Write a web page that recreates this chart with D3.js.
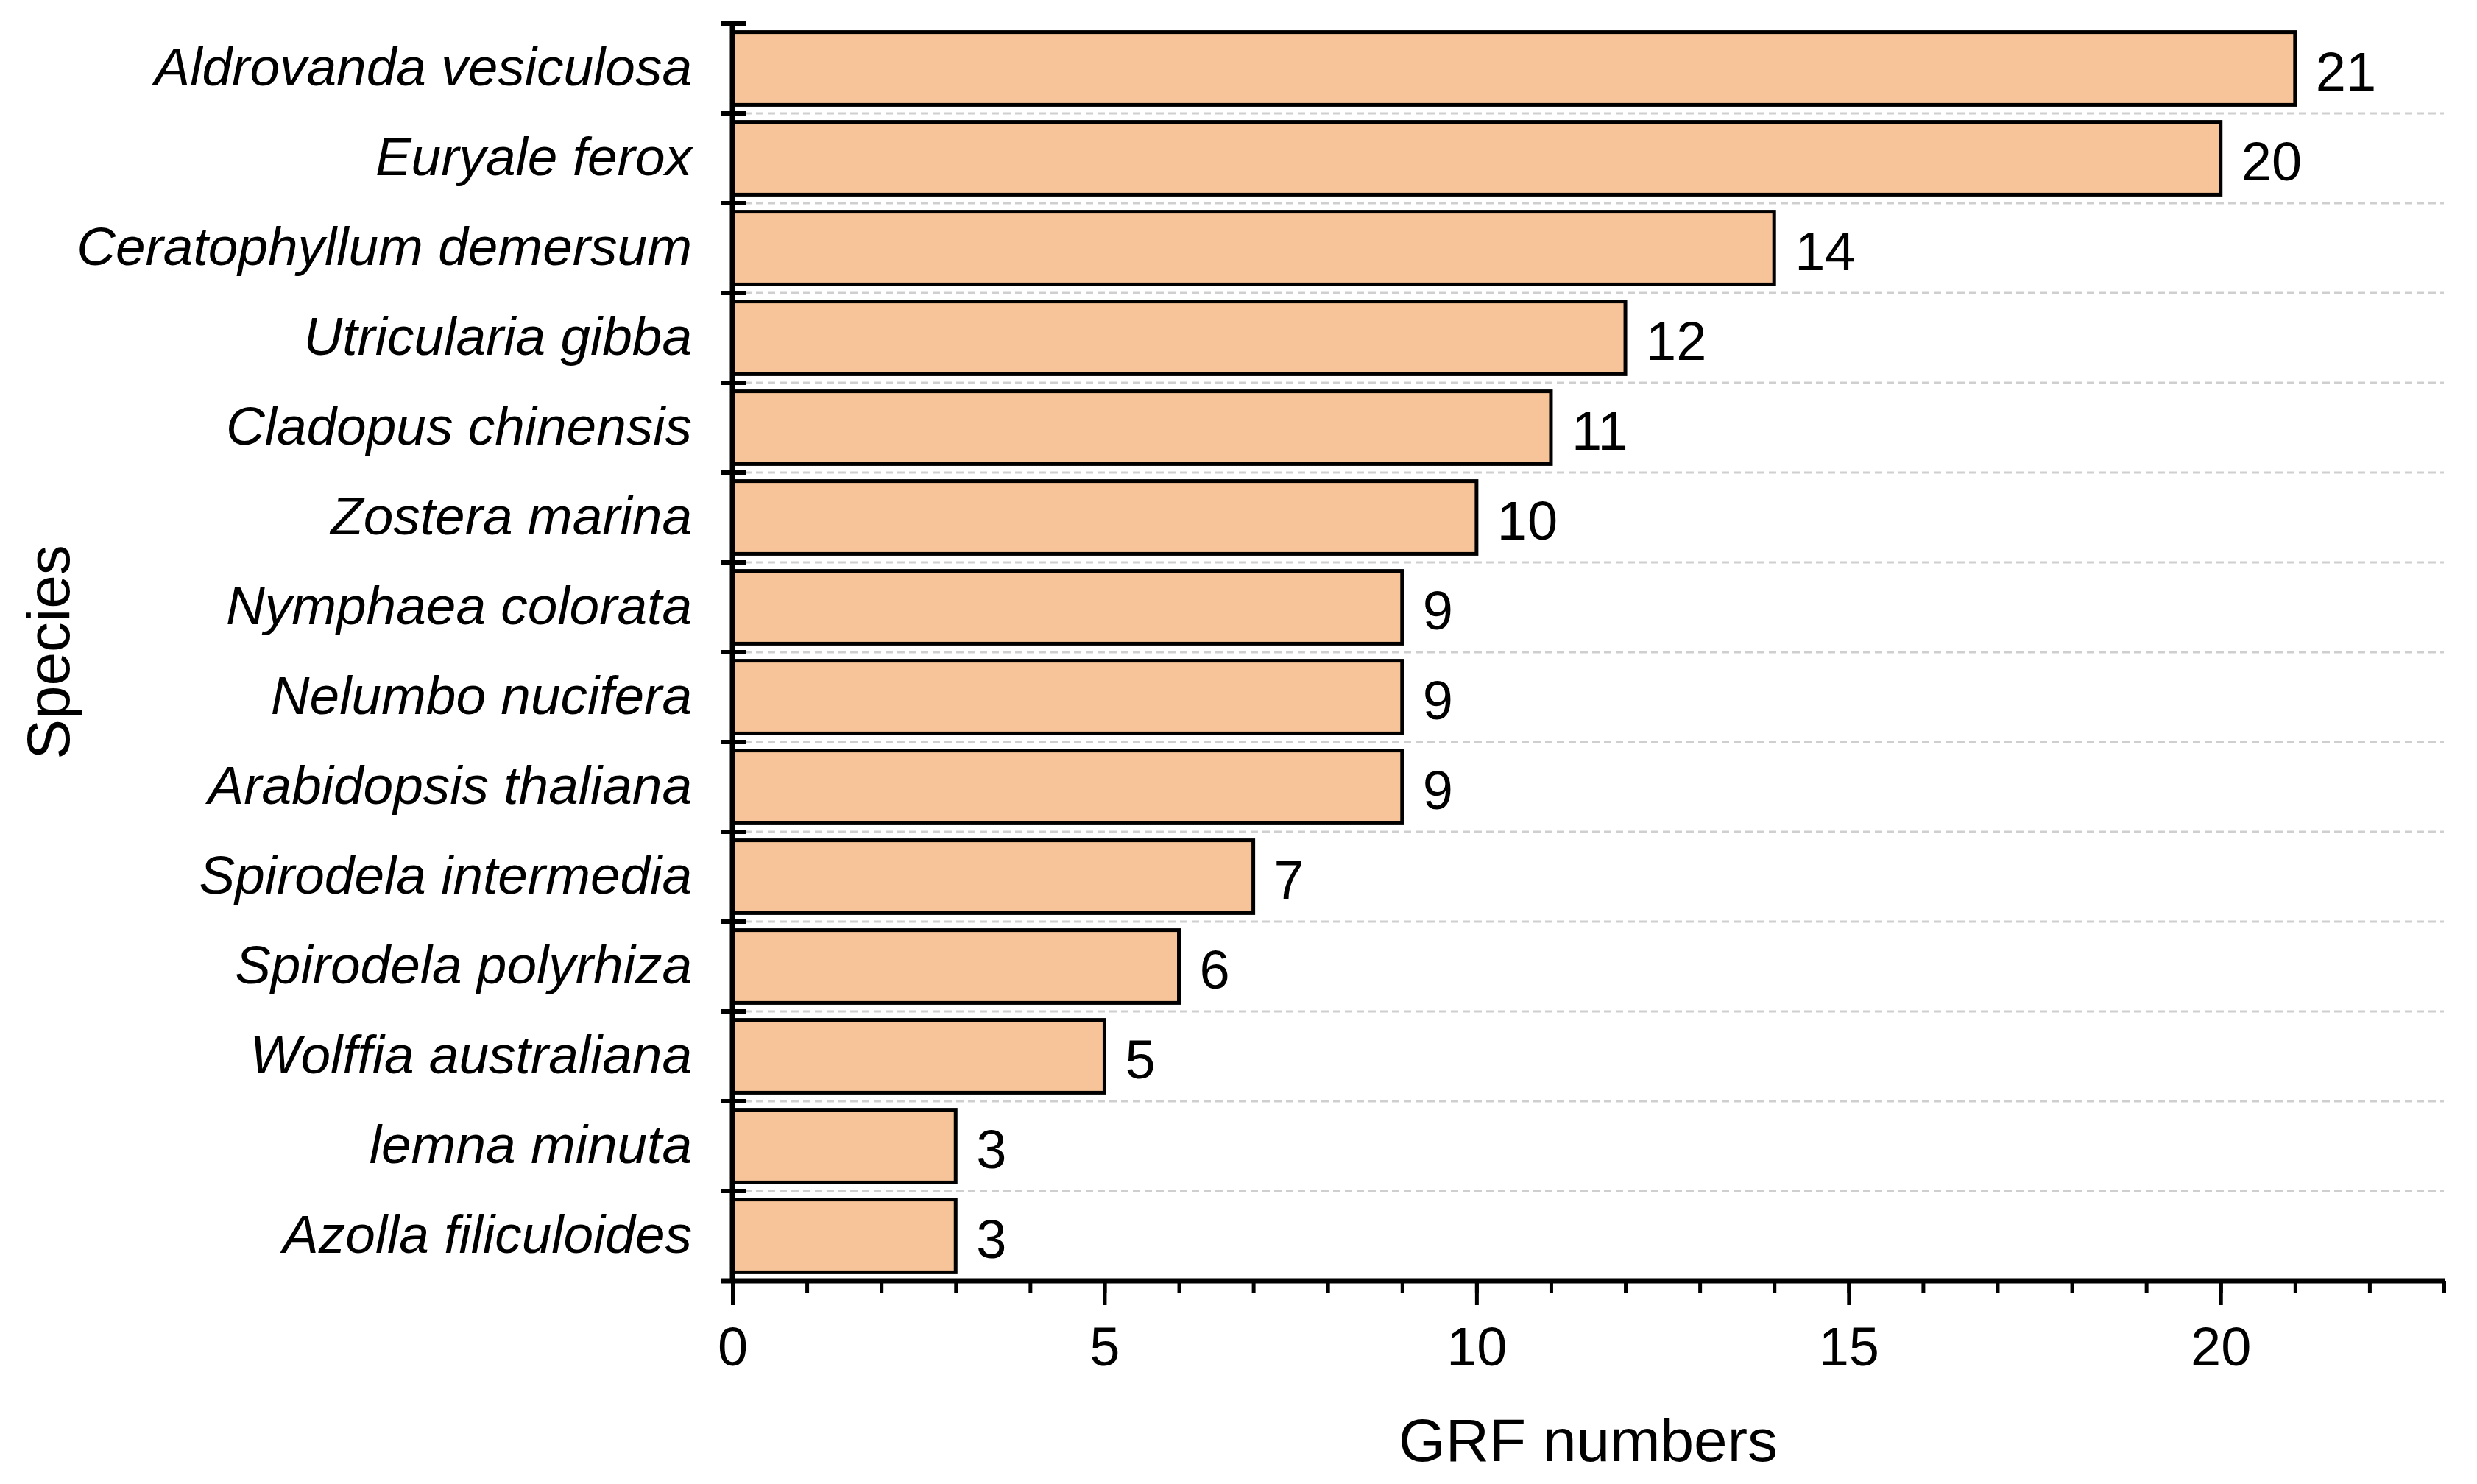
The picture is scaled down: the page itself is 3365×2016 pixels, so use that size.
<!DOCTYPE html>
<html>
<head>
<meta charset="utf-8">
<script src="https://cdn.jsdelivr.net/npm/d3@7"></script>
<style>
  html, body { margin: 0; padding: 0; background: #ffffff; }
  svg { display: block; }
  text { font-family: "Liberation Sans", Arial, Helvetica, sans-serif; fill: #000; }
</style>
</head>
<body>
<svg id="chart" width="3365" height="2016"></svg>
<script>
// ---- data ----
const species = [
  "Aldrovanda vesiculosa", "Euryale ferox", "Ceratophyllum demersum", "Utricularia gibba",
  "Cladopus chinensis", "Zostera marina", "Nymphaea colorata", "Nelumbo nucifera",
  "Arabidopsis thaliana", "Spirodela intermedia", "Spirodela polyrhiza", "Wolffia australiana",
  "lemna minuta", "Azolla filiculoides"
];
const grfNumbers = [21, 20, 14, 12, 11, 10, 9, 9, 9, 7, 6, 5, 3, 3];
const xMajorTicks = [0, 5, 10, 15, 20];
const xMinorTicks = d3.range(0, 24);
const xTitle = "GRF numbers";
const yTitle = "Species";

// ---- layout ----
const svg = d3.select("#chart");
const plotLeft = 995, plotRight = 3320, plotTop = 32, plotBottom = 1740;

const x = d3.scaleLinear().domain([0, 23]).range([plotLeft, plotRight]);
const y = d3.scaleBand().domain(species).range([plotTop, plotBottom])
  .paddingInner(0.19).paddingOuter(0.095);

svg.append("rect").attr("width", 3365).attr("height", 2016).attr("fill", "#ffffff");

// boundaries between categories
const half = y.step() * y.paddingInner() / 2;
const boundaries = species.map(s => y(s) - half);
boundaries.push(plotBottom);

// gridlines (interior boundaries)
svg.append("g").selectAll("line")
  .data(boundaries.slice(1, -1))
  .join("line")
  .attr("x1", plotLeft).attr("x2", plotRight)
  .attr("y1", d => d).attr("y2", d => d)
  .attr("stroke", "#cfcfcf").attr("stroke-width", 3)
  .attr("stroke-dasharray", "10,6");

// bars
svg.append("g").selectAll("rect")
  .data(species)
  .join("rect")
  .attr("x", x(0))
  .attr("y", d => y(d))
  .attr("width", (d, i) => x(grfNumbers[i]) - x(0))
  .attr("height", y.bandwidth())
  .attr("fill", "#F6C498")
  .attr("stroke", "#000")
  .attr("stroke-width", 5);

// value labels
svg.append("g").selectAll("text")
  .data(species)
  .join("text")
  .attr("x", (d, i) => x(grfNumbers[i]) + 28)
  .attr("y", d => y(d) + y.bandwidth() / 2 + 30)
  .attr("font-size", 74)
  .text((d, i) => grfNumbers[i]);

// category labels
svg.append("g").selectAll("text")
  .data(species)
  .join("text")
  .attr("x", plotLeft - 55)
  .attr("y", d => y(d) + y.bandwidth() / 2 + 23)
  .attr("text-anchor", "end")
  .attr("font-size", 73)
  .attr("font-style", "italic")
  .text(d => d);

// x axis: minor ticks
const xMinor = svg.append("g")
  .attr("transform", `translate(0,${plotBottom})`)
  .call(d3.axisBottom(x).tickValues(xMinorTicks).tickSize(16).tickFormat(""));
xMinor.select(".domain").remove();
xMinor.selectAll(".tick line").attr("stroke", "#000").attr("stroke-width", 5);

// x axis: major ticks with labels
const xMajor = svg.append("g")
  .attr("transform", `translate(0,${plotBottom})`)
  .call(d3.axisBottom(x).tickValues(xMajorTicks).tickSize(33).tickFormat(d3.format("d")));
xMajor.select(".domain").remove();
xMajor.selectAll(".tick line").attr("stroke", "#000").attr("stroke-width", 5);
xMajor.selectAll(".tick text")
  .attr("y", 115).attr("dy", null)
  .attr("font-size", 74)
  .attr("font-family", '"Liberation Sans", Arial, sans-serif')
  .attr("fill", "#000");

// y axis ticks at boundaries (crossing the axis)
svg.append("g").selectAll("line")
  .data(boundaries.slice(0, -1))
  .join("line")
  .attr("x1", plotLeft - 16).attr("x2", plotLeft + 19)
  .attr("y1", d => d).attr("y2", d => d)
  .attr("stroke", "#000").attr("stroke-width", 6);

// axis lines
svg.append("line")
  .attr("x1", plotLeft).attr("x2", plotLeft)
  .attr("y1", plotTop - 3).attr("y2", plotBottom)
  .attr("stroke", "#000").attr("stroke-width", 7);
svg.append("line")
  .attr("x1", plotLeft - 16).attr("x2", plotRight + 2)
  .attr("y1", plotBottom).attr("y2", plotBottom)
  .attr("stroke", "#000").attr("stroke-width", 7);

// axis titles
svg.append("text")
  .attr("x", (plotLeft + plotRight) / 2)
  .attr("y", 1985)
  .attr("text-anchor", "middle")
  .attr("font-size", 82)
  .text(xTitle);

svg.append("text")
  .attr("transform", `translate(94,${(plotTop + plotBottom) / 2}) rotate(-90)`)
  .attr("text-anchor", "middle")
  .attr("font-size", 82)
  .text(yTitle);
</script>
</body>
</html>
